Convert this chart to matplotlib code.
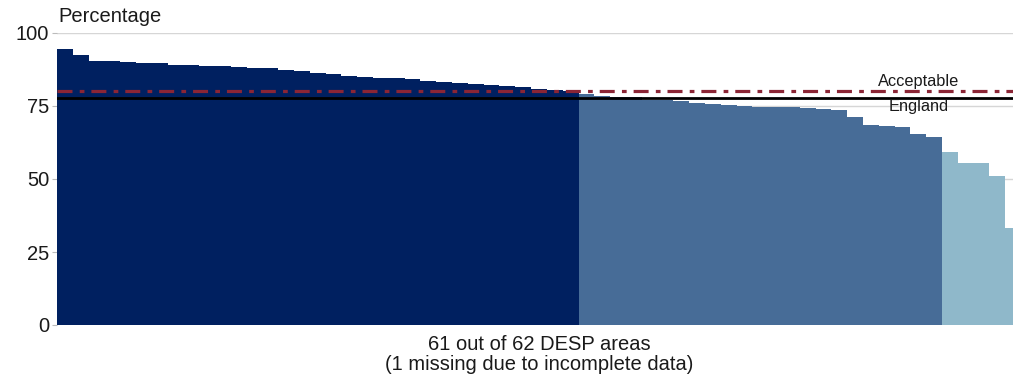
import matplotlib
matplotlib.use("Agg")
import matplotlib.pyplot as plt

plt.rcParams['font.family'] = ['Liberation Sans', 'DejaVu Sans']
plt.rcParams['lines.scale_dashes'] = False

values = [94.5, 92.4, 90.5, 90.4, 90.2, 89.8, 89.6, 89.2, 88.9, 88.8,
          88.8, 88.2, 88.1, 87.9, 87.2, 87.1, 86.2, 86.1, 85.2, 85.1,
          84.7, 84.6, 84.1, 83.7, 83.1, 83.0, 82.5, 82.1, 82.0, 81.4,
          80.9, 80.5, 80.2, 79.2, 78.4, 78.2, 78.0, 77.2, 77.1, 76.6,
          76.1, 75.7, 75.2, 74.9, 74.8, 74.8, 74.7, 74.4, 74.0, 73.5,
          71.2, 68.4, 68.3, 67.7, 65.4, 64.4, 59.4, 55.6, 55.4, 51.1,
          33.1]
groups = ['high'] * 33 + ['mid'] * 23 + ['low'] * 5
group_colors = {'high': '#002060', 'mid': '#476C97', 'low': '#8FB8CA'}

england = 77.7
acceptable = 80.0
yticks = [0, 25, 50, 75, 100]
xlabel = "61 out of 62 DESP areas\n(1 missing due to incomplete data)"

W, H = 1013, 377
fig = plt.figure(figsize=(W / 100, H / 100), dpi=100)
ax = fig.add_axes([57 / W, (H - 325) / H, 964 / W, 292 / H])

x = list(range(1, len(values) + 1))
cols = [group_colors[g] for g in groups]
ax.bar(x, values, width=1.0, color=cols, linewidth=0, antialiased=False, zorder=2)

ax.set_xlim(0.5, len(values) + 0.5)
ax.set_ylim(0, 100)
ax.set_yticks(yticks)
ax.set_xticks([])
ax.yaxis.grid(True, color='#D6D6D6', linewidth=1.0, zorder=0)
ax.set_axisbelow(True)
for s in ax.spines.values():
    s.set_visible(False)
ax.tick_params(axis='y', length=3.5, width=0.8, color='#BBBBBB', labelsize=14.5,
               pad=2, labelcolor='#1a1a1a')

ax.axhline(acceptable, color='#8B2535', linewidth=2.3,
           linestyle=(0, (10.8, 5.2, 3.4, 5.0)), zorder=4)
ax.axhline(england, color='black', linewidth=2.0, zorder=3)

ax.text(55.0, 83.3, "Acceptable", ha='center', va='center', fontsize=11.8, color='#1a1a1a')
ax.text(55.0, 74.7, "England", ha='center', va='center', fontsize=11.8, color='#1a1a1a')

fig.text(58 / W, 1 - 17 / H, "Percentage", ha='left', va='center', fontsize=14.5, color='#1a1a1a')
fig.text(539 / W, 1 - 354.5 / H, xlabel, ha='center', va='center', fontsize=14.5,
         linespacing=1.12, color='#1a1a1a')

fig.savefig("out.png", dpi=100)
